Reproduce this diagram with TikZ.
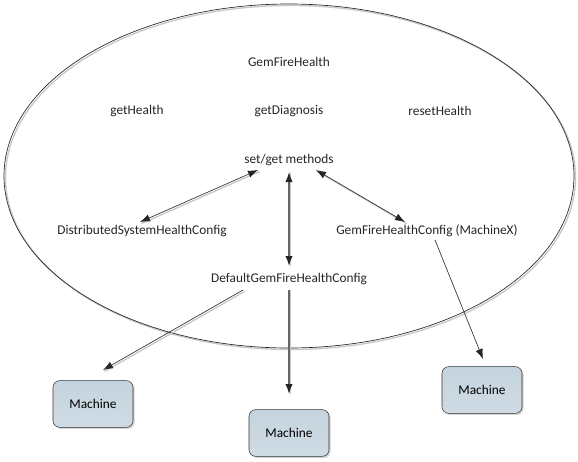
\documentclass[tikz,border=0pt]{standalone}
\usepackage{fontspec}
\setmainfont{Carlito}
\usetikzlibrary{arrows.meta, shadows, positioning}
\definecolor{boxfill}{HTML}{C4D3DE}
\definecolor{shadowgray}{HTML}{C8C8C8}

\tikzset{
    label/.style={font=\fontsize{10}{12}\selectfont, text=black!85, inner sep=1pt},
    machine/.style={draw=black!80, top color=boxfill, bottom color=boxfill!80!white, rounded corners=5pt,
        minimum width=60pt, minimum height=35pt, font=\fontsize{10}{12}\selectfont,
        drop shadow={shadow xshift=1.2pt, shadow yshift=-1.2pt, fill=black!35}},
    link/.style={draw=black!80, line width=0.5pt, -{Latex[length=7.5pt,width=5.5pt,color=black!85]}},
    biglink/.style={link, {Latex[length=7.5pt,width=5.5pt,color=black!85]}-{Latex[length=7.5pt,width=5.5pt,color=black!85]}},
    shade/.style={draw=shadowgray, line width=1pt}
}

\begin{document}
\begin{tikzpicture}[x=0.75pt, y=-0.75pt]
    \useasboundingbox (0,0) rectangle (578,461);

    % Ellipse with shadow
    \draw[shade] (290.5,177.5) ellipse (285 and 172);
    \draw[black!85, line width=0.5pt] (289,176) ellipse (285 and 172);

    % Texts inside the ellipse
    \node[label] (health) at (289,62) {GemFireHealth};
    \node[label] (gethealth) at (137,111) {getHealth};
    \node[label] (getdiag) at (289,111) {getDiagnosis};
    \node[label] (reset) at (440,111) {resetHealth};
    \node[label] (setget) at (289,160) {set/get methods};
    \node[label] (dist) at (142,231) {DistributedSystemHealthConfig};
    \node[label] (machx) at (427,231) {GemFireHealthConfig (MachineX)};
    \node[label] (default) at (289,279) {DefaultGemFireHealthConfig};

    % Machines
    \node[machine] (m1) at (93,404) {Machine};
    \node[machine] (m2) at (289,433) {Machine};
    \node[machine] (m3) at (482,390) {Machine};

    % Coordinates for the arrow ends
    \coordinate (sgl) at (258,170);
    \coordinate (sgr) at (316,170);
    \coordinate (sgc) at (289,172);
    \coordinate (distt) at (140,222);
    \coordinate (machxt) at (405,222);
    \coordinate (deft) at (289,266);
    \coordinate (defl) at (243,290);
    \coordinate (defc) at (289,290);
    \coordinate (machxb) at (435,240);
    \coordinate (m1t) at (103,370);
    \coordinate (m2t) at (289,394);
    \coordinate (m3t) at (483,359);

    % Shadows of the arrows
    \draw[shade] ([shift={(1.5,1.5)}]sgl) -- ([shift={(1.5,1.5)}]distt);
    \draw[shade] ([shift={(1.5,1.5)}]sgr) -- ([shift={(1.5,1.5)}]machxt);
    \draw[shade] ([shift={(1.5,0)}]sgc) -- ([shift={(1.5,0)}]deft);
    \draw[shade] ([shift={(1.5,1.5)}]defl) -- ([shift={(1.5,1.5)}]m1t);
    \draw[shade] ([shift={(1.5,0)}]defc) -- ([shift={(1.5,0)}]m2t);

    % Arrows
    \draw[biglink] (sgl) -- (distt);
    \draw[biglink] (sgr) -- (machxt);
    \draw[biglink, draw=black!60, line width=1pt] (sgc) -- (deft);
    \draw[link] (defl) -- (m1t);
    \draw[link, draw=black!60, line width=1pt] (defc) -- (m2t);
    \draw[link] (machxb) -- (m3t);
\end{tikzpicture}
\end{document}
